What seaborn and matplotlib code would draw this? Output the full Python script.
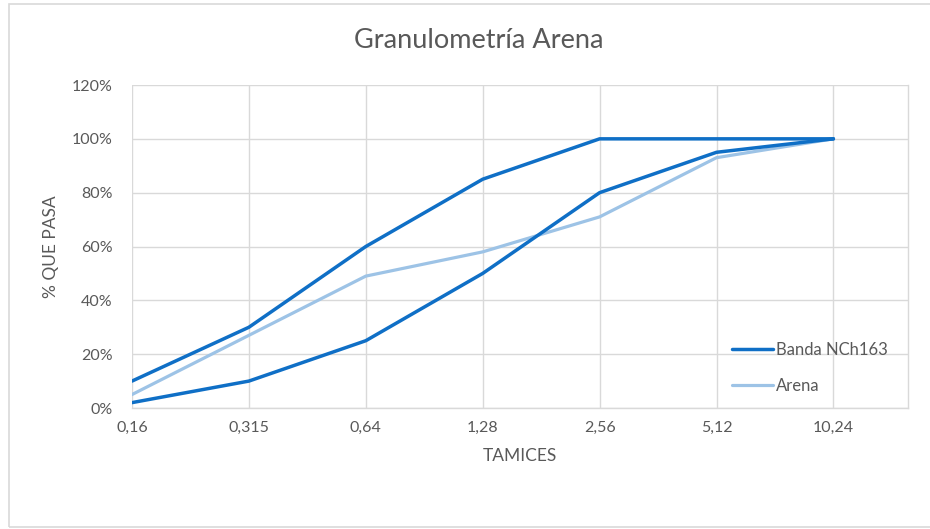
import matplotlib
matplotlib.use("Agg")
import matplotlib.pyplot as plt
from matplotlib.patches import Rectangle
from matplotlib.ticker import FuncFormatter
import seaborn as sns
import pandas as pd

# Sieve sizes (categorical axis) and percent passing
tamices = ["0,16", "0,315", "0,64", "1,28", "2,56", "5,12", "10,24"]
banda_superior = [10, 30, 60, 85, 100, 100, 100]
banda_inferior = [2, 10, 25, 50, 80, 95, 100]
arena = [5, 27, 49, 58, 71, 93, 100]
y_ticks = [0, 20, 40, 60, 80, 100, 120]

sns.set_theme(style="white")
plt.rcParams["font.family"] = ["Lato", "DejaVu Sans"]

TEXT = "#595959"
GRID = "#D9D9D9"
DARK = "#0F6FC6"
LIGHT = "#9DC3E6"

pos = list(range(len(tamices)))
df = pd.DataFrame({
    "pos": pos * 3,
    "valor": banda_superior + banda_inferior + arena,
    "serie": ["sup"] * len(pos) + ["inf"] * len(pos) + ["arena"] * len(pos),
})

fig = plt.figure(figsize=(9.30, 5.29), dpi=100)
ax = fig.add_axes([132 / 930, 1 - 408 / 529, (908 - 132) / 930, (408 - 85) / 529])

sns.lineplot(data=df[df.serie == "sup"], x="pos", y="valor", color=DARK,
             linewidth=2.5, ax=ax, label="Banda NCh163", zorder=3)
sns.lineplot(data=df[df.serie == "inf"], x="pos", y="valor", color=DARK,
             linewidth=2.5, ax=ax, zorder=3)
sns.lineplot(data=df[df.serie == "arena"], x="pos", y="valor", color=LIGHT,
             linewidth=2.3, ax=ax, label="Arena", zorder=2)

step = 116.9
ax.set_xlim(0, (908 - 132) / step)
ax.set_ylim(0, 120)
ax.set_xticks(pos)
ax.set_xticklabels(tamices)
ax.set_yticks(y_ticks)
ax.yaxis.set_major_formatter(FuncFormatter(lambda v, _: f"{int(v)}%"))
ax.tick_params(axis="both", length=0, labelsize=11.5, labelcolor=TEXT)
ax.tick_params(axis="x", pad=9)
ax.tick_params(axis="y", pad=14)

ax.grid(True, color=GRID, linewidth=1.0)
for s in ["left", "top"]:
    ax.spines[s].set_visible(False)
for s in ["right", "bottom"]:
    ax.spines[s].set_color(GRID)
    ax.spines[s].set_linewidth(1.0)

ax.set_xlabel("TAMICES", fontsize=12.5, color=TEXT, labelpad=10)
ax.set_ylabel("% QUE PASA", fontsize=12.5, color=TEXT, labelpad=9)
fig.text(479 / 930, 1 - 40 / 529, "Granulometría Arena", ha="center", va="center",
         fontsize=19.5, color=TEXT)

leg = ax.legend(loc="upper left", bbox_to_anchor=((725 - 132) / (908 - 132), (408 - 335) / (408 - 85)),
                frameon=False, fontsize=12.0, handlelength=2.45, handletextpad=0.2,
                labelspacing=1.2, borderaxespad=0)
for t in leg.get_texts():
    t.set_color(TEXT)

# Outer chart frame
fig.patches.append(Rectangle((9 / 930, 2 / 529), 1.2, 523 / 529, transform=fig.transFigure,
                             fill=False, edgecolor=GRID, linewidth=1.2, zorder=0))

fig.savefig("out.png", dpi=100, facecolor="white")
